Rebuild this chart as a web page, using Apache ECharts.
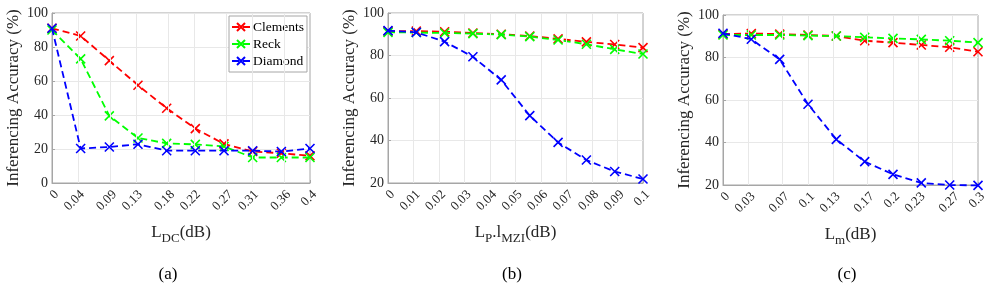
<!DOCTYPE html>
<html><head><meta charset="utf-8">
<script src="https://cdn.jsdelivr.net/npm/echarts@6/dist/echarts.min.js"></script>
<style>html,body{margin:0;padding:0;background:#fff}#c{width:992px;height:288px}</style>
</head><body><div id="c"></div>
<script>
// Panel (a): L_DC sweep
const xA = [0, 0.0444, 0.0889, 0.1333, 0.1778, 0.2222, 0.2667, 0.3111, 0.3556, 0.4];
const ticksA = [0, 0.04, 0.09, 0.13, 0.18, 0.22, 0.27, 0.31, 0.36, 0.4];
const clementsA = [91, 86.5, 72, 57.5, 44, 32, 23, 18.5, 17.5, 16];
const reckA = [90, 73, 39.5, 26.5, 23.3, 22.7, 21.5, 15, 15, 15];
const diamondA = [91, 20.3, 21.2, 22.8, 19, 19, 19, 19, 18.5, 20.3];
// Panel (b): L_P.l_MZI sweep
const xB = [0, 0.0111, 0.0222, 0.0333, 0.0444, 0.0556, 0.0667, 0.0778, 0.0889, 0.1];
const ticksB = [0, 0.01, 0.02, 0.03, 0.04, 0.05, 0.06, 0.07, 0.08, 0.09, 0.1];
const clementsB = [91.5, 91.5, 91.2, 90.6, 90, 89.2, 87.8, 86.4, 85.2, 83.7];
const reckB = [90.9, 90.8, 90.6, 90.3, 89.8, 88.9, 87.3, 85.3, 82.9, 80.7];
const diamondB = [91.7, 90.9, 86.5, 79.4, 68.5, 51.7, 39.1, 30.8, 25.4, 21.9];
// Panel (c): L_m sweep
const xC = [0, 0.0333, 0.0667, 0.1, 0.1333, 0.1667, 0.2, 0.2333, 0.2667, 0.3];
const ticksC = [0, 0.03, 0.07, 0.1, 0.13, 0.17, 0.2, 0.23, 0.27, 0.3];
const clementsC = [91, 91.3, 91, 90.6, 90.1, 87.9, 87, 85.9, 84.8, 82.7];
const reckC = [90.6, 90.6, 90.6, 90.3, 90.1, 89.5, 89, 88.5, 87.9, 87];
const diamondC = [91.4, 88.6, 79.1, 58, 41.5, 31, 25, 21, 20, 19.8];
const seriesNames = ['Clements', 'Reck', 'Diamond'];
const colors = ['#ff0000', '#00ff00', '#0000ff'];
const yLabel = 'Inferencing Accuracy (%)';

const FONT = 'Liberation Serif';
const chart = echarts.init(document.getElementById('c'), null, {renderer: 'canvas'});
const X = 'path://M0,0L10,10M10,0L0,10';

const grids = [
  {left: 52, top: 13, width: 258, height: 170},
  {left: 388, top: 13, width: 255, height: 170},
  {left: 723, top: 15, width: 255, height: 170}
];
const xDefs = [
  {max: 0.4, ticks: ticksA, xs: xA, name: '{a|L}{s|DC}{a|(dB)}', data: [clementsA, reckA, diamondA]},
  {max: 0.1, ticks: ticksB, xs: xB, name: '{a|L}{s|P}{a|.l}{s|MZI}{a|(dB)}', data: [clementsB, reckB, diamondB]},
  {max: 0.3, ticks: ticksC, xs: xC, name: '{a|L}{s|m}{a|(dB)}', data: [clementsC, reckC, diamondC]}
];
const yMins = [0, 20, 20];

const gridLineColor = '#e8e8e8';
const boxColor = '#a6a6a6';
const txt = '#262626';

const option = {
  animation: false,
  textStyle: {fontFamily: FONT},
  grid: grids.map(g => Object.assign({show: true, borderColor: boxColor, borderWidth: 1, containLabel: false}, g)),
  xAxis: xDefs.map((d, i) => ({
    type: 'value', gridIndex: i, min: 0, max: d.max,
    axisLine: {show: true, lineStyle: {color: boxColor}},
    axisTick: {show: true, inside: true, length: 3, lineStyle: {color: boxColor}, customValues: d.ticks},
    axisLabel: {customValues: d.ticks, rotate: 45, color: txt, fontSize: 13, fontFamily: FONT, margin: 5,
      verticalAlign: 'top', formatter: v => String(+v.toFixed(2))},
    splitLine: {show: false},
    name: d.name, nameLocation: 'middle', nameGap: 38,
    nameTextStyle: {rich: {
      a: {fontSize: 17, fontFamily: FONT, color: txt, lineHeight: 20},
      s: {fontSize: 13, fontFamily: FONT, color: txt, padding: [12, 0, 0, 0], lineHeight: 20}
    }}
  })),
  yAxis: yMins.map((m, i) => ({
    type: 'value', gridIndex: i, min: m, max: 100, interval: 20,
    axisLine: {show: true, lineStyle: {color: boxColor}},
    axisTick: {show: true, inside: true, length: 3, lineStyle: {color: boxColor}},
    axisLabel: {color: txt, fontSize: 14, fontFamily: FONT, margin: 4},
    splitLine: {show: true, lineStyle: {color: gridLineColor, width: 1}},
    name: yLabel, nameLocation: 'middle', nameGap: 30,
    nameTextStyle: {fontSize: 17, fontFamily: FONT, color: txt}
  })),
  legend: {
    data: seriesNames, orient: 'vertical', left: 229, top: 16,
    backgroundColor: '#fff', borderColor: boxColor, borderWidth: 1,
    padding: [4, 3, 4, 2], itemGap: 3, itemWidth: 18, itemHeight: 10,
    textStyle: {fontSize: 13.5, fontFamily: FONT, color: '#000', padding: [0, 0, 0, -2]}
  },
  graphic: [
    {type: 'text', x: 168, y: 275, style: {text: '(a)', fontSize: 17, fontFamily: FONT, fill: '#000', align: 'center', verticalAlign: 'middle'}},
    {type: 'text', x: 512, y: 275, style: {text: '(b)', fontSize: 17, fontFamily: FONT, fill: '#000', align: 'center', verticalAlign: 'middle'}},
    {type: 'text', x: 847, y: 275, style: {text: '(c)', fontSize: 17, fontFamily: FONT, fill: '#000', align: 'center', verticalAlign: 'middle'}}
  ],
  series: []
};

xDefs.forEach((d, gi) => {
  // vertical grid lines at tick values
  option.series.push({
    type: 'line', xAxisIndex: gi, yAxisIndex: gi, data: [], silent: true,
    markLine: {silent: true, symbol: 'none', label: {show: false},
      lineStyle: {color: gridLineColor, type: 'solid', width: 1},
      emphasis: {disabled: true},
      data: d.ticks.filter(t => t > 0 && t < d.max).map(t => ({xAxis: t}))}
  });
  d.data.forEach((vals, si) => {
    option.series.push({
      name: seriesNames[si], type: 'line', xAxisIndex: gi, yAxisIndex: gi,
      data: vals.map((v, k) => [d.xs[k], v]),
      symbol: X, symbolSize: 9, clip: false,
      lineStyle: {color: colors[si], width: 1.8, type: [7, 4]},
      itemStyle: {color: colors[si], borderColor: colors[si], borderWidth: 1.6},
      z: 3 + si
    });
  });
});

chart.setOption(option);
</script></body></html>
